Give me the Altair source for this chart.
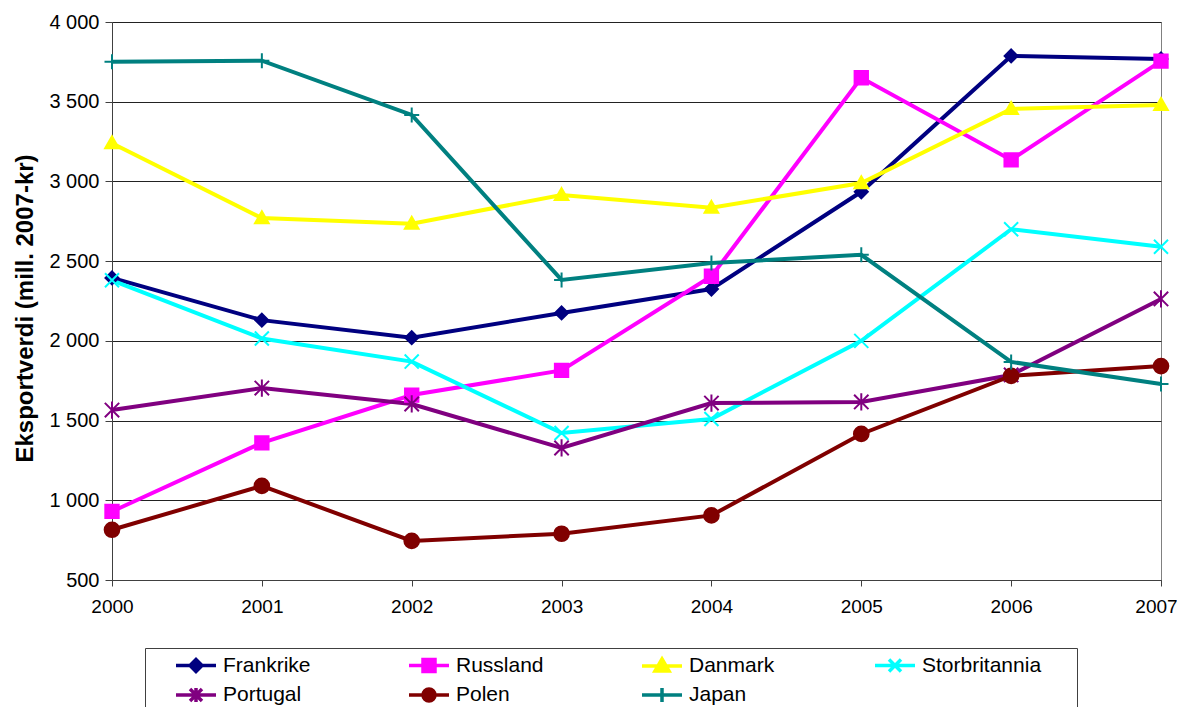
import altair as alt
import pandas as pd

years = [2000, 2001, 2002, 2003, 2004, 2005, 2006, 2007]
series = ["Frankrike", "Russland", "Danmark", "Storbritannia", "Portugal", "Polen", "Japan"]
frankrike = [2395, 2130, 2020, 2175, 2325, 2935, 3787, 3768]
russland = [930, 1360, 1660, 1815, 2405, 3650, 3135, 3755]
danmark = [3240, 2770, 2735, 2915, 2835, 2990, 3455, 3480]
storbritannia = [2380, 2015, 1870, 1422, 1510, 2000, 2700, 2590]
portugal = [1566, 1704, 1604, 1328, 1610, 1617, 1786, 2263]
polen = [815, 1090, 745, 790, 905, 1416, 1780, 1842]
japan = [3750, 3757, 3417, 2382, 2488, 2540, 1868, 1730]
y_ticks = [500, 1000, 1500, 2000, 2500, 3000, 3500, 4000]

colors = ["#000080", "#FF00FF", "#FFFF00", "#00FFFF", "#800080", "#800000", "#008080"]
marker_shapes = [
    "M0,-1L1,0L0,1L-1,0Z",
    "M-1,-1H1V1H-1Z",
    "M0,-1L1,0.75H-1Z",
    "M-1,-1L1,1M-1,1L1,-1",
    "M-1,-1L1,1M-1,1L1,-1M0,-1.2V1.2",
    "circle",
    "M0,-1V1M-1,0H1",
]
legend_shapes = [
    "M-1,0H3M1,-0.6L1.6,0L1,0.6L0.4,0Z",
    "M-1,0H3M0.4,-0.6H1.6V0.6H0.4Z",
    "M-1,0H3M1,-0.7L1.7,0.5H0.3Z",
    "M-1,0H3M0.4,-0.6L1.6,0.6M0.4,0.6L1.6,-0.6",
    "M-1,0H3M0.4,-0.6L1.6,0.6M0.4,0.6L1.6,-0.6M1,-0.7V0.7",
    "M-1,0H3M1.6,0A0.6,0.6,0,1,1,0.4,0A0.6,0.6,0,1,1,1.6,0Z",
    "M-1,0H3M1,-0.7V0.7",
]

values = [frankrike, russland, danmark, storbritannia, portugal, polen, japan]
rows = []
for name, vals in zip(series, values):
    for yr, v in zip(years, vals):
        rows.append({"Land": name, "År": yr, "Verdi": v})
df = pd.DataFrame(rows)

FONT = "Liberation Sans"

x_enc = alt.X(
    "År:Q",
    scale=alt.Scale(domain=[2000, 2007], nice=False, zero=False),
    axis=alt.Axis(
        title=None, values=years, format="d", grid=False,
        labelFontSize=19, labelFont=FONT, labelColor="#000",
        tickSize=6, tickColor="#404040", domainColor="#404040",
        labelPadding=11, labelFlush=False,
        labelOffset=alt.condition("datum.value == 2007", alt.value(-5), alt.value(0)),
    ),
)
y_enc = alt.Y(
    "Verdi:Q",
    scale=alt.Scale(domain=[500, 4000], nice=False, zero=False),
    axis=alt.Axis(
        title="Eksportverdi (mill. 2007-kr)", values=y_ticks,
        labelExpr="replace(format(datum.value, ','), ',', ' ')",
        labelFontSize=20, labelFont=FONT, labelColor="#000",
        titleFontSize=24, titleFont=FONT, titleFontWeight="bold", titleColor="#000",
        titlePadding=11, titleY=286,
        tickSize=7, tickColor="#404040", domainColor="#404040",
        grid=True, gridColor="#222222", gridWidth=1,
        labelPadding=6,
    ),
)

color_plain = alt.Color("Land:N", scale=alt.Scale(domain=series, range=colors), legend=None, sort=series)
order_enc = alt.Order("År:Q")

lines = alt.Chart(df).mark_line(strokeWidth=4).encode(
    x=x_enc, y=y_enc, color=color_plain, order=order_enc
)

markers = alt.Chart(df).mark_point(filled=True, strokeWidth=2, opacity=1).encode(
    x=x_enc, y=y_enc,
    color=color_plain,
    stroke=alt.Stroke("Land:N", scale=alt.Scale(domain=series, range=colors), legend=None),
    shape=alt.Shape("Land:N", scale=alt.Scale(domain=series, range=marker_shapes), legend=None),
    size=alt.Size("Land:N", scale=alt.Scale(domain=series, range=[169, 225, 256, 196, 196, 210, 196]), legend=None),
)

legend_props = dict(
    orient="none", legendX=33, legendY=626, columns=4, gridAlign="all", direction="horizontal",
    title="\u00a0", titleOrient="left", titlePadding=24, titleFontSize=10,
    labelFontSize=21, labelFont=FONT, labelColor="#000",
    labelExpr="datum.label + '\u2800\u2800'",
    symbolSize=400, symbolStrokeWidth=3.5, labelOffset=25,
    columnPadding=29, rowPadding=2, padding=5,
    strokeColor="#404040", fillColor="white", symbolLimit=0, labelLimit=400,
)

legend_layer = alt.Chart(df).transform_filter("false").mark_point(filled=True, opacity=1).encode(
    x=x_enc, y=y_enc,
    color=alt.Color("Land:N", scale=alt.Scale(domain=series, range=colors), sort=series,
                    legend=alt.Legend(**legend_props)),
    stroke=alt.Stroke("Land:N", scale=alt.Scale(domain=series, range=colors), sort=series,
                      legend=alt.Legend(**legend_props)),
    shape=alt.Shape("Land:N", scale=alt.Scale(domain=series, range=legend_shapes), sort=series,
                    legend=alt.Legend(**legend_props)),
)

chart = (
    alt.layer(lines, markers, legend_layer)
    .resolve_scale(color="independent", stroke="independent", shape="independent", size="independent")
    .properties(
        width=1049, height=558,
        autosize=alt.AutoSizeParams(type="none"),
        padding={"left": 104, "top": 14, "right": 16, "bottom": 127},
        background="white",
    )
    .configure_view(stroke="#808080", strokeWidth=1)
)

chart.save("out.html", embed_options={"renderer": "svg", "actions": False})
